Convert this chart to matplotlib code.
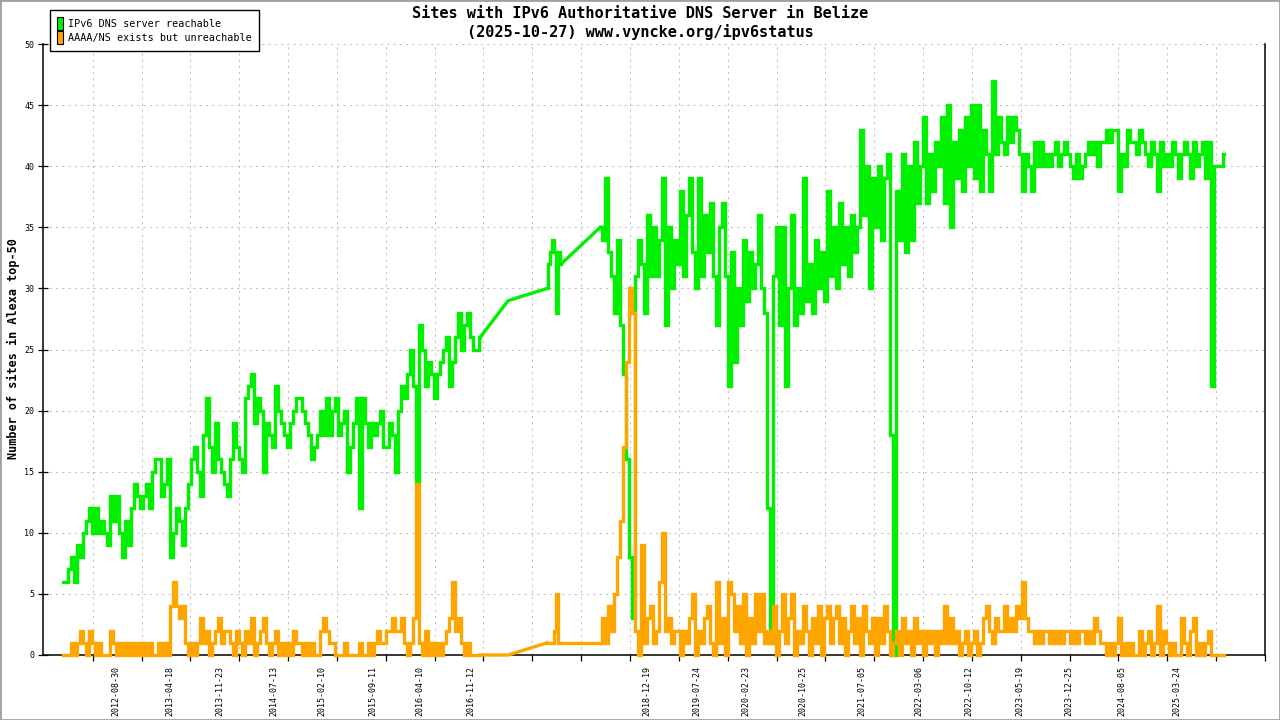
import numpy as np
import matplotlib
matplotlib.use("Agg")
import matplotlib.pyplot as plt
from matplotlib.patches import Patch, Rectangle
from matplotlib.font_manager import FontProperties

# ---------------- data ----------------
TITLE_1 = "Sites with IPv6 Authoritative DNS Server in Belize"
TITLE_2 = "(2025-10-27) www.vyncke.org/ipv6status"
Y_LABEL = "Number of sites in Alexa top-50"
SERIES_NAMES = ["IPv6 DNS server reachable", "AAAA/NS exists but unreachable"]

# x axis: sample axis, measured in tick intervals (tick k = k)
SAMPLE_STEP = 3 / 48.83
SEG1_START = -0.608
SEG2_START = 10.390

# dense part 1 (2012 .. end 2016)
reachable_seg1 = [
    6, 6, 7, 8, 6, 9, 8, 10, 11, 12,
    10, 12, 10, 11, 10, 9, 13, 11, 13, 10,
    8, 11, 9, 12, 14, 13, 12, 13, 14, 12,
    15, 16, 16, 13, 14, 16, 8, 10, 12, 11,
    9, 12, 14, 16, 17, 15, 13, 18, 21, 17,
    15, 19, 16, 15, 14, 13, 16, 19, 17, 16,
    15, 21, 22, 23, 19, 21, 20, 15, 19, 18,
    17, 22, 20, 19, 18, 17, 19, 20, 21, 21,
    20, 19, 18, 16, 17, 18, 20, 18, 21, 18,
    20, 21, 18, 19, 20, 15, 17, 19, 21, 12,
    21, 19, 17, 19, 18, 19, 20, 17, 17, 19,
    18, 15, 20, 22, 21, 23, 25, 22, 14, 27,
    25, 22, 24, 23, 21, 23, 24, 25, 26, 22,
    24, 26, 28, 25, 27, 28, 26, 25, 25, 26,
]
unreachable_seg1 = [
    0, 0, 0, 1, 0, 1, 2, 1, 0, 2,
    1, 0, 1, 0, 0, 0, 2, 1, 0, 1,
    0, 1, 0, 1, 0, 1, 0, 1, 0, 1,
    0, 0, 1, 0, 1, 0, 4, 6, 4, 3,
    4, 1, 0, 1, 0, 1, 3, 1, 2, 0,
    1, 2, 3, 1, 2, 2, 1, 0, 2, 1,
    0, 2, 1, 3, 0, 1, 2, 3, 1, 0,
    1, 2, 0, 1, 0, 1, 0, 2, 1, 1,
    0, 1, 0, 1, 0, 0, 2, 3, 2, 1,
    1, 0, 0, 0, 1, 0, 0, 0, 0, 1,
    0, 0, 1, 0, 1, 2, 1, 1, 2, 2,
    3, 2, 2, 3, 1, 0, 1, 3, 14, 1,
    0, 2, 0, 1, 0, 1, 0, 1, 2, 3,
    6, 2, 3, 1, 0, 1, 0, 0, 0, 0,
]

# sparse samples (2017 .. 2018)
sparse_pos = [8.505, 9.304, 9.345, 9.386, 9.427, 9.468, 9.508, 9.549, 9.590]
reachable_sparse = [29, 30, 32, 33, 34, 33, 28, 33, 32]
unreachable_sparse = [0, 1, 1, 1, 1, 2, 5, 1, 1]

# dense part 2 (2018 .. 2025)
reachable_seg2 = [
    35, 34, 39, 33, 31, 28, 34, 27, 23, 16,
    8, 3, 31, 34, 32, 28, 36, 31, 35, 31,
    34, 39, 27, 35, 30, 34, 32, 38, 31, 36,
    39, 33, 30, 39, 31, 36, 33, 37, 31, 27,
    35, 37, 31, 22, 33, 24, 30, 27, 34, 29,
    33, 30, 32, 36, 30, 28, 12, 1, 31, 35,
    27, 35, 22, 30, 36, 27, 30, 28, 39, 29,
    32, 28, 34, 30, 33, 29, 38, 31, 35, 30,
    37, 32, 35, 31, 36, 33, 35, 43, 36, 40,
    30, 39, 35, 40, 34, 39, 41, 18, 0, 38,
    34, 41, 33, 40, 34, 42, 37, 40, 44, 37,
    41, 38, 42, 40, 44, 37, 45, 35, 42, 39,
    43, 38, 44, 40, 45, 39, 45, 38, 43, 41,
    38, 47, 41, 44, 42, 41, 44, 42, 44, 43,
    41, 38, 41, 40, 38, 42, 40, 42, 40, 41,
    40, 41, 42, 40, 41, 42, 41, 40, 39, 41,
    39, 40, 41, 42, 41, 42, 40, 42, 42, 43,
    42, 43, 43, 38, 41, 40, 43, 42, 42, 41,
    43, 42, 41, 40, 42, 41, 38, 42, 40, 41,
    40, 42, 41, 39, 41, 42, 41, 39, 42, 40,
    41, 42, 39, 42, 22, 40, 40, 40, 41,
]
unreachable_seg2 = [
    1, 3, 1, 4, 2, 5, 8, 11, 17, 24,
    30, 28, 2, 0, 9, 1, 3, 4, 1, 2,
    6, 10, 2, 3, 1, 2, 2, 0, 2, 1,
    3, 5, 0, 2, 1, 3, 4, 1, 0, 6,
    1, 3, 0, 6, 5, 2, 4, 1, 5, 0,
    3, 1, 5, 2, 5, 1, 2, 1, 4, 0,
    2, 5, 1, 3, 5, 0, 2, 1, 4, 2,
    0, 3, 1, 4, 0, 3, 4, 1, 3, 4,
    1, 3, 0, 2, 4, 1, 3, 0, 4, 2,
    1, 3, 0, 3, 1, 4, 2, 0, 1, 2,
    0, 3, 1, 2, 0, 3, 1, 2, 0, 2,
    1, 2, 0, 2, 1, 4, 1, 3, 1, 2,
    0, 1, 2, 0, 1, 2, 0, 1, 3, 4,
    2, 1, 3, 2, 2, 4, 2, 3, 2, 4,
    3, 6, 3, 2, 2, 1, 2, 1, 2, 2,
    1, 2, 1, 2, 1, 2, 2, 1, 2, 1,
    2, 2, 1, 2, 1, 3, 2, 1, 1, 0,
    1, 0, 1, 3, 0, 1, 0, 1, 0, 0,
    2, 0, 1, 2, 0, 1, 4, 0, 2, 1,
    0, 1, 0, 0, 3, 1, 0, 2, 3, 0,
    1, 0, 1, 2, 0, 0, 0, 0, 0,
]

# date labels and their positions on the sample axis (tick units)
date_labels = ["2012-08-30", "2013-04-18", "2013-11-23", "2014-07-13", "2015-02-10",
               "2015-09-11", "2016-04-10", "2016-11-12",
               "2018-12-19", "2019-07-24", "2020-02-23", "2020-10-25", "2021-07-05",
               "2022-03-06", "2022-10-12", "2023-05-19", "2023-12-25", "2024-08-05",
               "2025-03-24"]
date_label_pos = [0.48, 1.59, 2.61, 3.72, 4.70, 5.73, 6.70, 7.75,
                  11.35, 12.38, 13.38, 14.55, 15.75, 16.92, 17.93, 18.99, 19.99,
                  21.08, 22.20]
major_ticks = list(range(0, 25))
y_ticks = list(range(0, 51, 5))

GREEN = "#00f000"
ORANGE = "#ffa500"
MONO = "DejaVu Sans Mono"


def build(seg1, sparse, seg2):
    x1 = SEG1_START + SAMPLE_STEP * np.arange(len(seg1))
    x2 = SEG2_START + SAMPLE_STEP * np.arange(len(seg2))
    return (x1, np.array(seg1, float)), (np.array(sparse_pos[:len(sparse)]), np.array(sparse, float)), \
        (x2, np.array(seg2, float))


def draw(ax, seg1, sparse, seg2, color, z):
    (x1, y1), (xs, ys), (x2, y2) = build(seg1, sparse, seg2)
    kw = dict(color=color, lw=2.4, solid_joinstyle="miter", clip_on=False, zorder=z)
    # dense runs drawn as blocky steps, gap bridged with straight lines
    ax.plot(x1, y1, drawstyle="steps-mid", **kw)
    ax.plot(np.concatenate([[x1[-1]], xs[:2]]), np.concatenate([[y1[-1]], ys[:2]]), **kw)
    ax.plot(xs[1:], ys[1:], drawstyle="steps-mid", **kw)
    ax.plot([xs[-1], x2[0]], [ys[-1], y2[0]], **kw)
    ax.plot(x2, y2, drawstyle="steps-mid", **kw)


# ---------------- figure ----------------
W, H = 1280, 720
fig = plt.figure(figsize=(12.8, 7.2), dpi=100)
fig.patch.set_facecolor("white")
ax = fig.add_axes([43 / W, 1 - 655 / H, (1265 - 43) / W, (655 - 44) / H])

draw(ax, reachable_seg1, reachable_sparse, reachable_seg2, GREEN, 3)
draw(ax, unreachable_seg1, unreachable_sparse, unreachable_seg2, ORANGE, 4)

ax.set_xlim(-1.018, 24.0)
ax.set_ylim(0, 50)

ax.set_xticks(major_ticks)
ax.set_xticklabels([])
ax.set_xticks(date_label_pos, minor=True)
ax.set_xticklabels(date_labels, minor=True, rotation=90, fontsize=6, family=MONO)
ax.tick_params(axis="x", which="major", direction="out", length=4.3, width=0.9, color="black")
ax.tick_params(axis="x", which="minor", length=0, pad=8)

ax.set_yticks(y_ticks)
ax.set_yticklabels([str(v) for v in y_ticks], fontsize=6, family=MONO)
ax.tick_params(axis="y", direction="inout", length=6.5, width=0.9, pad=3, color="black")

ax.grid(True, which="major", color="#c0c0c0", linestyle=(0, (2, 4)), linewidth=0.75)
ax.set_axisbelow(True)

ax.spines["top"].set_visible(False)
for s in ("left", "bottom", "right"):
    ax.spines[s].set_color("black")
    ax.spines[s].set_linewidth(1.1)

fig.text(0.5, 1 - 13 / H, TITLE_1, ha="center", va="center", family=MONO,
         fontsize=11, fontweight="bold")
fig.text(0.5, 1 - 32 / H, TITLE_2, ha="center", va="center", family=MONO,
         fontsize=11, fontweight="bold")
fig.text(13 / W, 1 - 349 / H, Y_LABEL, rotation=90, ha="center", va="center",
         family=MONO, fontsize=8.5, fontweight="bold")

handles = [Patch(facecolor=GREEN, edgecolor="black", linewidth=0.8),
           Patch(facecolor=ORANGE, edgecolor="black", linewidth=0.8)]
leg = fig.legend(handles, SERIES_NAMES, loc="upper left",
                 bbox_to_anchor=(50 / W, 1 - 10 / H), borderaxespad=0,
                 prop=FontProperties(family=MONO, size=7.3),
                 handlelength=0.6, handleheight=1.6, handletextpad=0.5,
                 borderpad=0.7, labelspacing=0.12, frameon=True, fancybox=False,
                 framealpha=1, edgecolor="black")
leg.get_frame().set_linewidth(1.0)

fig.patches.append(Rectangle((0, 0), 1, 1, transform=fig.transFigure, fill=False,
                             edgecolor="#a0a0a0", linewidth=2.0))

fig.savefig("out.png", dpi=100, facecolor="white")
